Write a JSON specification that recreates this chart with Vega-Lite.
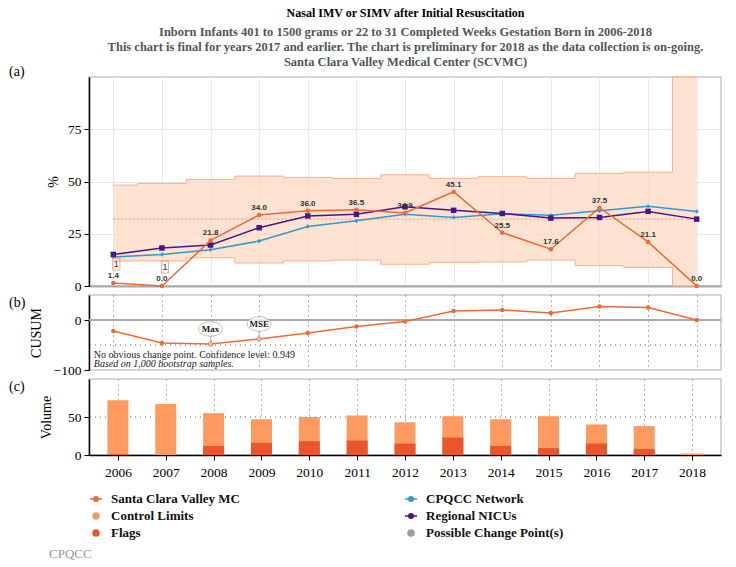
{
  "$schema": "https://vega.github.io/schema/vega-lite/v6.json",
  "padding": {"left": 8, "top": 6, "right": 10, "bottom": 3},
  "title": {
    "text": "Nasal IMV or SIMV after Initial Resuscitation",
    "subtitle": [
      "Inborn Infants 401 to 1500 grams or 22 to 31 Completed Weeks Gestation Born in 2006-2018",
      "This chart is final for years 2017 and earlier. The chart is preliminary for 2018 as the data collection is on-going.",
      "Santa Clara Valley Medical Center (SCVMC)"
    ],
    "anchor": "middle",
    "dx": 40,
    "font": "Liberation Serif",
    "fontSize": 12,
    "fontWeight": "bold",
    "color": "#000",
    "subtitleFont": "Liberation Serif",
    "subtitleFontSize": 12.5,
    "subtitleFontWeight": "bold",
    "subtitleColor": "#555",
    "subtitleLineHeight": 15,
    "subtitlePadding": 6,
    "offset": -5
  },
  "datasets": {
    "main": [
      {"year": 2006, "scvmc": 1.4, "network": 13.9, "regional": 15.1, "ucl": 48.3, "lcl": 12.0, "cl": 32, "cusum": -22, "n": 72, "flags": 1, "note": 1},
      {"year": 2007, "scvmc": 0.0, "network": 15.1, "regional": 18.2, "ucl": 49.1, "lcl": 12.0, "cl": 32, "cusum": -46, "n": 67, "flags": 0, "note": 1},
      {"year": 2008, "scvmc": 21.8, "network": 17.4, "regional": 19.6, "ucl": 51.0, "lcl": 13.5, "cl": 32, "cusum": -48, "n": 55, "flags": 12, "cp": "Max"},
      {"year": 2009, "scvmc": 34.0, "network": 21.5, "regional": 27.9, "ucl": 52.6, "lcl": 11.0, "cl": 32, "cusum": -38, "n": 47, "flags": 16, "cp": "MSE"},
      {"year": 2010, "scvmc": 36.0, "network": 28.5, "regional": 33.5, "ucl": 52.0, "lcl": 12.0, "cl": 32, "cusum": -26, "n": 50, "flags": 18},
      {"year": 2011, "scvmc": 36.5, "network": 31.2, "regional": 34.3, "ucl": 51.4, "lcl": 12.4, "cl": 32, "cusum": -13, "n": 52, "flags": 19},
      {"year": 2012, "scvmc": 34.9, "network": 34.3, "regional": 37.9, "ucl": 53.2, "lcl": 10.4, "cl": 32, "cusum": -3, "n": 43, "flags": 15},
      {"year": 2013, "scvmc": 45.1, "network": 32.8, "regional": 36.2, "ucl": 51.5, "lcl": 11.3, "cl": 32, "cusum": 18, "n": 51, "flags": 23},
      {"year": 2014, "scvmc": 25.5, "network": 34.6, "regional": 34.7, "ucl": 52.3, "lcl": 11.5, "cl": 32, "cusum": 20, "n": 47, "flags": 12},
      {"year": 2015, "scvmc": 17.6, "network": 33.8, "regional": 32.5, "ucl": 51.5, "lcl": 12.4, "cl": 32, "cusum": 14, "n": 51, "flags": 9},
      {"year": 2016, "scvmc": 37.5, "network": 36.0, "regional": 32.8, "ucl": 53.9, "lcl": 9.7, "cl": 32, "cusum": 27, "n": 40, "flags": 15},
      {"year": 2017, "scvmc": 21.1, "network": 38.1, "regional": 35.7, "ucl": 54.5, "lcl": 8.9, "cl": 32, "cusum": 25, "n": 38, "flags": 8},
      {"year": 2018, "scvmc": 0.0, "network": 35.7, "regional": 32.0, "ucl": 100, "lcl": 0, "cl": 32, "cusum": 0, "n": 2, "flags": 0}
    ]
  },
  "data": {"name": "main"},
  "spacing": 0,
  "vconcat": [
    {
      "width": 632,
      "height": 209,
      "title": {"text": "(a)", "anchor": "start", "frame": "group", "dx": -80, "fontSize": 14, "fontWeight": "normal", "offset": -4},
      "layer": [
        {
          "mark": {"type": "area", "interpolate": "step", "color": "#fdd8c3", "opacity": 0.75},
          "encoding": {
            "x": {"field": "year", "type": "quantitative", "scale": {"domain": [2005.5, 2018.5], "nice": false, "zero": false},
                  "axis": {"values": [2006, 2007, 2008, 2009, 2010, 2011, 2012, 2013, 2014, 2015, 2016, 2017, 2018], "labels": false, "ticks": false, "title": null, "grid": true, "gridColor": "#e8e8e8", "domainColor": "#a8a8a8", "domainWidth": 2}},
            "y": {"field": "lcl", "type": "quantitative", "title": "%", "scale": {"domain": [0, 100], "nice": false},
                  "axis": {"values": [0, 25, 50, 75], "grid": true, "gridColor": "#e8e8e8", "titlePadding": 7}},
            "y2": {"field": "ucl"}
          }
        },
        {
          "mark": {"type": "line", "interpolate": "step", "color": "#f6b08a", "strokeWidth": 1},
          "encoding": {
            "x": {"field": "year", "type": "quantitative"},
            "y": {"field": "ucl", "type": "quantitative", "title": "%", "scale": {"domain": [0, 100], "nice": false}}
          }
        },
        {
          "mark": {"type": "line", "interpolate": "step", "color": "#f6b08a", "strokeWidth": 1},
          "encoding": {
            "x": {"field": "year", "type": "quantitative"},
            "y": {"field": "lcl", "type": "quantitative", "title": "%", "scale": {"domain": [0, 100], "nice": false}}
          }
        },
        {
          "mark": {"type": "line", "color": "#f08a5d", "strokeWidth": 0.8, "strokeDash": [2, 2]},
          "encoding": {
            "x": {"field": "year", "type": "quantitative"},
            "y": {"field": "cl", "type": "quantitative", "title": "%", "scale": {"domain": [0, 100], "nice": false}}
          }
        },
        {
          "mark": {"type": "line", "color": "#3399cc", "strokeWidth": 1.5, "point": {"filled": true, "size": 14, "shape": "cross", "color": "#3399cc"}},
          "encoding": {
            "x": {"field": "year", "type": "quantitative"},
            "y": {"field": "network", "type": "quantitative", "title": "%", "scale": {"domain": [0, 100], "nice": false}}
          }
        },
        {
          "mark": {"type": "line", "color": "#4a1486", "strokeWidth": 1.5, "point": {"filled": true, "size": 30, "shape": "square", "color": "#4a1486"}},
          "encoding": {
            "x": {"field": "year", "type": "quantitative"},
            "y": {"field": "regional", "type": "quantitative", "title": "%", "scale": {"domain": [0, 100], "nice": false}}
          }
        },
        {
          "mark": {"type": "line", "color": "#ee6a35", "strokeWidth": 1.5, "point": {"filled": true, "size": 20, "color": "#ee6a35"}},
          "encoding": {
            "x": {"field": "year", "type": "quantitative"},
            "y": {"field": "scvmc", "type": "quantitative", "title": "%", "scale": {"domain": [0, 100], "nice": false}}
          }
        },
        {
          "mark": {"type": "text", "font": "Liberation Sans", "fontSize": 8, "fontWeight": "bold", "color": "#333", "baseline": "bottom", "dy": -3},
          "encoding": {
            "x": {"field": "year", "type": "quantitative"},
            "y": {"field": "scvmc", "type": "quantitative", "title": "%", "scale": {"domain": [0, 100], "nice": false}},
            "text": {"field": "scvmc", "type": "quantitative", "format": ".1f"}
          }
        },
        {
          "transform": [{"filter": "datum.note === 1"}],
          "mark": {"type": "point", "shape": "M-0.6,-1L0.6,-1L0.6,1L-0.6,1Z", "size": 144, "filled": false, "color": "#f08a5d", "strokeWidth": 1, "yOffset": -19, "xOffset": 3},
          "encoding": {
            "x": {"field": "year", "type": "quantitative"},
            "y": {"field": "scvmc", "type": "quantitative", "title": "%", "scale": {"domain": [0, 100], "nice": false}}
          }
        },
        {
          "transform": [{"filter": "datum.note === 1"}],
          "mark": {"type": "text", "font": "Liberation Sans", "fontSize": 9, "color": "#333", "baseline": "middle", "dy": -19, "dx": 3},
          "encoding": {
            "x": {"field": "year", "type": "quantitative"},
            "y": {"field": "scvmc", "type": "quantitative", "title": "%", "scale": {"domain": [0, 100], "nice": false}},
            "text": {"field": "note", "type": "quantitative"}
          }
        }
      ]
    },
    {
      "width": 632,
      "height": 75,
      "title": {"text": "(b)", "anchor": "start", "frame": "group", "dx": -80, "fontSize": 14, "fontWeight": "normal", "offset": -15},
      "layer": [
        {
          "data": {"values": [{}]},
          "mark": {"type": "rule", "color": "#666", "strokeDash": [1, 4], "strokeWidth": 1},
          "encoding": {"y": {"datum": -50, "type": "quantitative", "scale": {"domain": [-100, 50], "nice": false}}}
        },
        {
          "data": {"values": [{}]},
          "mark": {"type": "rule", "color": "#aaaaaa", "strokeWidth": 2},
          "encoding": {"y": {"datum": 0, "type": "quantitative", "scale": {"domain": [-100, 50], "nice": false}}}
        },
        {
          "mark": {"type": "line", "color": "#ee6a35", "strokeWidth": 1.5, "point": {"filled": true, "size": 20, "color": "#ee6a35"}},
          "encoding": {
            "x": {"field": "year", "type": "quantitative", "scale": {"domain": [2005.5, 2018.5], "nice": false, "zero": false},
                  "axis": {"values": [2006, 2007, 2008, 2009, 2010, 2011, 2012, 2013, 2014, 2015, 2016, 2017, 2018], "labels": false, "ticks": false, "domain": false, "title": null, "grid": true, "gridColor": "#666", "gridDash": [1, 4]}},
            "y": {"field": "cusum", "type": "quantitative", "title": "CUSUM", "scale": {"domain": [-100, 50], "nice": false},
                  "axis": {"values": [-100, -50, 0], "titlePadding": 10}}
          }
        },
        {
          "transform": [{"filter": "isValid(datum.cp)"}],
          "mark": {"type": "rule", "color": "#999", "strokeWidth": 0.8, "y2Offset": -8},
          "encoding": {
            "x": {"field": "year", "type": "quantitative"},
            "y": {"field": "cusum", "type": "quantitative", "title": "CUSUM", "scale": {"domain": [-100, 50], "nice": false}},
            "y2": {"field": "cusum"}
          }
        },
        {
          "transform": [{"filter": "isValid(datum.cp)"}],
          "mark": {"type": "point", "filled": true, "fill": "#fbe3d8", "stroke": "#ee8a60", "strokeWidth": 1, "size": 20},
          "encoding": {
            "x": {"field": "year", "type": "quantitative"},
            "y": {"field": "cusum", "type": "quantitative", "title": "CUSUM", "scale": {"domain": [-100, 50], "nice": false}}
          }
        },
        {
          "transform": [{"filter": "isValid(datum.cp)"}],
          "mark": {"type": "point", "shape": "M-1,0A1,0.6 0 1,1 1,0A1,0.6 0 1,1 -1,0Z", "size": 576, "filled": true, "fill": "#ffffff", "stroke": "#aaaaaa", "strokeWidth": 1, "yOffset": -15},
          "encoding": {
            "x": {"field": "year", "type": "quantitative"},
            "y": {"field": "cusum", "type": "quantitative", "title": "CUSUM", "scale": {"domain": [-100, 50], "nice": false}}
          }
        },
        {
          "transform": [{"filter": "isValid(datum.cp)"}],
          "mark": {"type": "text", "font": "Liberation Serif", "fontSize": 9, "fontWeight": "bold", "color": "#222", "baseline": "middle", "dy": -15},
          "encoding": {
            "x": {"field": "year", "type": "quantitative"},
            "y": {"field": "cusum", "type": "quantitative", "title": "CUSUM", "scale": {"domain": [-100, 50], "nice": false}},
            "text": {"field": "cp", "type": "nominal"}
          }
        },
        {
          "data": {"values": [{}]},
          "mark": {"type": "text", "font": "Liberation Serif", "fontSize": 10, "color": "#222", "align": "left", "baseline": "middle"},
          "encoding": {
            "x": {"datum": 2005.6, "type": "quantitative"},
            "y": {"datum": -69, "type": "quantitative", "scale": {"domain": [-100, 50], "nice": false}},
            "text": {"value": "No obvious change point. Confidence level: 0.949"}
          }
        },
        {
          "data": {"values": [{}]},
          "mark": {"type": "text", "font": "Liberation Serif", "fontSize": 10, "fontStyle": "italic", "color": "#222", "align": "left", "baseline": "middle"},
          "encoding": {
            "x": {"datum": 2005.6, "type": "quantitative"},
            "y": {"datum": -88, "type": "quantitative", "scale": {"domain": [-100, 50], "nice": false}},
            "text": {"value": "Based on 1,000 bootstrap samples."}
          }
        }
      ]
    },
    {
      "width": 632,
      "height": 76,
      "title": {"text": "(c)", "anchor": "start", "frame": "group", "dx": -80, "fontSize": 14, "fontWeight": "normal", "offset": -15},
      "layer": [
        {
          "data": {"values": [{}]},
          "mark": {"type": "rule", "color": "#666", "strokeDash": [1, 4], "strokeWidth": 1},
          "encoding": {"y": {"datum": 50, "type": "quantitative", "scale": {"domain": [0, 100], "nice": false}}}
        },
        {
          "mark": {"type": "bar", "size": 21},
          "encoding": {
            "x": {"field": "year", "type": "quantitative", "scale": {"domain": [2005.5, 2018.5], "nice": false, "zero": false},
                  "axis": {"values": [2006, 2007, 2008, 2009, 2010, 2011, 2012, 2013, 2014, 2015, 2016, 2017, 2018], "format": "d", "title": null, "grid": true, "gridColor": "#666", "gridDash": [1, 4], "domainColor": "#000", "domainWidth": 1.5, "tickSize": 5, "labelPadding": 5}},
            "y": {"field": "n", "type": "quantitative", "title": "Volume", "scale": {"domain": [0, 100], "nice": false}, "axis": {"values": [0, 50], "titlePadding": 14}},
            "color": {
              "datum": "Control Limits",
              "type": "nominal",
              "scale": {
                "domain": ["Santa Clara Valley MC", "CPQCC Network", "Control Limits", "Regional NICUs", "Flags", "Possible Change Point(s)"],
                "range": ["#ee6a35", "#3399cc", "#fc9a5f", "#4a1486", "#e8562a", "#9e9e9e"]
              },
              "legend": {
                "title": "CPQCC",
                "orient": "none",
                "legendX": -40,
                "legendY": 113,
                "padding": 0,
                "direction": "horizontal",
                "columns": 2,
                "columnPadding": 161,
                "rowPadding": 3,
                "titleOrient": "bottom",
                "titleAnchor": "start",
                "titleFont": "Liberation Serif",
                "titleFontSize": 13,
                "titleFontWeight": "normal",
                "titleColor": "#999999",
                "titlePadding": 8,
                "labelFont": "Liberation Serif",
                "labelFontSize": 13,
                "labelFontWeight": "bold",
                "labelColor": "#111111",
                "labelOffset": 8,
                "symbolSize": 144,
                "symbolStrokeWidth": 1.5,
                "encode": {
                  "symbols": {
                    "update": {
                      "shape": {"signal": "indexof(['Control Limits','Flags','Possible Change Point(s)'], datum.value) >= 0 ? 'M-0.5,0A0.5,0.5 0 1,1 0.5,0A0.5,0.5 0 1,1 -0.5,0Z' : 'M-1,0L1,0M-0.38,0A0.38,0.38 0 1,1 0.38,0A0.38,0.38 0 1,1 -0.38,0Z'"},
                      "stroke": {"signal": "datum.value === 'Santa Clara Valley MC' ? '#ee6a35' : datum.value === 'CPQCC Network' ? '#3399cc' : datum.value === 'Regional NICUs' ? '#4a1486' : datum.value === 'Control Limits' ? '#fc9a5f' : datum.value === 'Flags' ? '#e8562a' : '#9e9e9e'"},
                      "strokeWidth": {"value": 1.5}
                    }
                  },
                  "title": {"update": {"dx": {"value": -40}}}
                }
              }
            }
          }
        },
        {
          "mark": {"type": "bar", "size": 21},
          "encoding": {
            "x": {"field": "year", "type": "quantitative"},
            "y": {"field": "flags", "type": "quantitative", "title": "Volume", "scale": {"domain": [0, 100], "nice": false}},
            "color": {"datum": "Flags", "type": "nominal"}
          }
        }
      ]
    }
  ],
  "resolve": {"scale": {"color": "independent"}, "legend": {"color": "independent"}},
  "config": {
    "font": "Liberation Serif",
    "view": {"stroke": "#c8c8c8", "strokeWidth": 1.5},
    "axis": {"labelFont": "Liberation Serif", "labelFontSize": 13.5, "labelColor": "#000", "titleFont": "Liberation Serif", "titleFontSize": 14, "titleFontWeight": "normal", "titleColor": "#000", "tickColor": "#000", "domainColor": "#000"},
    "axisY": {"domainWidth": 1.5, "tickSize": 5, "tickWidth": 1, "labelPadding": 3, "titlePadding": 8},
    "title": {"font": "Liberation Serif"}
  }
}
